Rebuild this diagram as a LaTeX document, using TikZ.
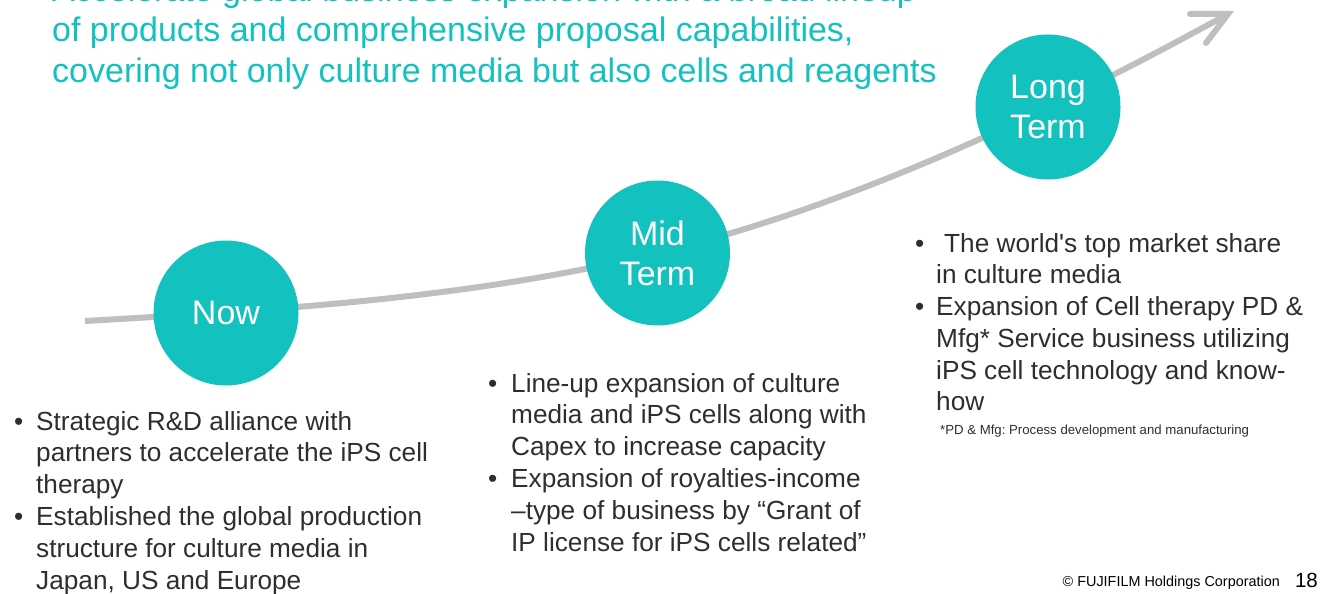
\documentclass[tikz,border=0pt]{standalone}
\usepackage{fontspec}
\setmainfont{Liberation Sans}
\newfontfamily\plainfont{Liberation Sans}
\definecolor{teal1}{HTML}{13C1BE}
\definecolor{txt}{HTML}{2E2E2E}
\definecolor{curvegray}{HTML}{BFBFBF}
\frenchspacing
\begin{document}
\begin{tikzpicture}[x=1pt,y=-1pt,
  stage/.style={circle,fill=teal1,draw=none,minimum size=145pt,inner sep=0pt,
    text=white,align=center,font=\fontsize{34}{40}\selectfont},
  body/.style={anchor=base west,inner sep=0pt,text=txt,font=\fontsize{26.2}{32}\selectfont},
  head/.style={anchor=base west,inner sep=0pt,text=teal1,font=\fontsize{34}{40}\selectfont},
  curve/.style={draw=curvegray,line width=6pt},
  barb/.style={draw=curvegray,line width=6pt,line cap=round}]
\useasboundingbox (0,0) rectangle (1322,594);
% heading
\node[head] (h1) at (52,2) {Accelerate global business expansion with a broad lineup};
\node[head] (h2) at (52,42) {of products and comprehensive proposal capabilities,};
\node[head] (h3) at (52,82) {covering not only culture media but also cells and reagents};
% curve
\coordinate (start) at (85,321);
\coordinate (midc) at (658,253);
\coordinate (tip) at (1228,14);
\draw[curve] (start) .. controls (275,310) and (468,299) .. (midc)
  .. controls (848,206.5) and (1038,118.5) .. (tip);
\coordinate (b1) at (1190,14);
\coordinate (b2) at (1206,43);
\draw[barb] (b1) -- (tip) -- (b2);
% stages
\node[stage] (now) at (226,313) {Now};
\node[stage] (mid) at (657.5,253) {Mid\\Term};
\node[stage] (long) at (1048,107) {Long\\Term};
% Now block
\node[body] (a1) at (14,430) {\makebox[22pt][l]{•}Strategic R\&D alliance with};
\node[body] (a2) at (36,461) {partners to accelerate the iPS cell};
\node[body] (a3) at (36,493) {therapy};
\node[body] (a4) at (14,525) {\makebox[22pt][l]{•}Established the global production};
\node[body] (a5) at (36,557) {structure for culture media in};
\node[body] (a6) at (36,589) {Japan, US and Europe};
% Mid block
\node[body] (m1) at (488,392) {\makebox[23pt][l]{•}Line-up expansion of culture};
\node[body] (m2) at (511,423) {media and iPS cells along with};
\node[body] (m3) at (511,455) {Capex to increase capacity};
\node[body] (m4) at (488,487) {\makebox[23pt][l]{•}Expansion of royalties-income};
\node[body] (m5) at (511,519) {–type of business by “Grant of};
\node[body] (m6) at (511,551) {IP license for iPS cells related”};
% Long block
\node[body] (l1) at (915,252) {\makebox[21pt][l]{•}\hspace{8pt}The world{\plainfont'}s top market share};
\node[body] (l2) at (936,283) {in culture media};
\node[body] (l3) at (915,315) {\makebox[21pt][l]{•}Expansion of Cell therapy PD \&};
\node[body] (l4) at (936,347) {Mfg* Service business utilizing};
\node[body] (l5) at (936,379) {iPS cell technology and know-};
\node[body] (l6) at (936,410) {how};
\node[anchor=base west,inner sep=0pt,text=txt,font=\fontsize{13.2}{16}\selectfont] (fn) at (940,434) {*PD \& Mfg: Process development and manufacturing};
% footer
\node[anchor=base east,inner sep=0pt,text=black,font=\fontsize{14.4}{17}\selectfont] (copy) at (1280,586) {© FUJIFILM Holdings Corporation};
\node[anchor=base east,inner sep=0pt,text=black,font=\fontsize{20.5}{24}\selectfont] (pg) at (1318,587) {18};
\end{tikzpicture}
\end{document}
